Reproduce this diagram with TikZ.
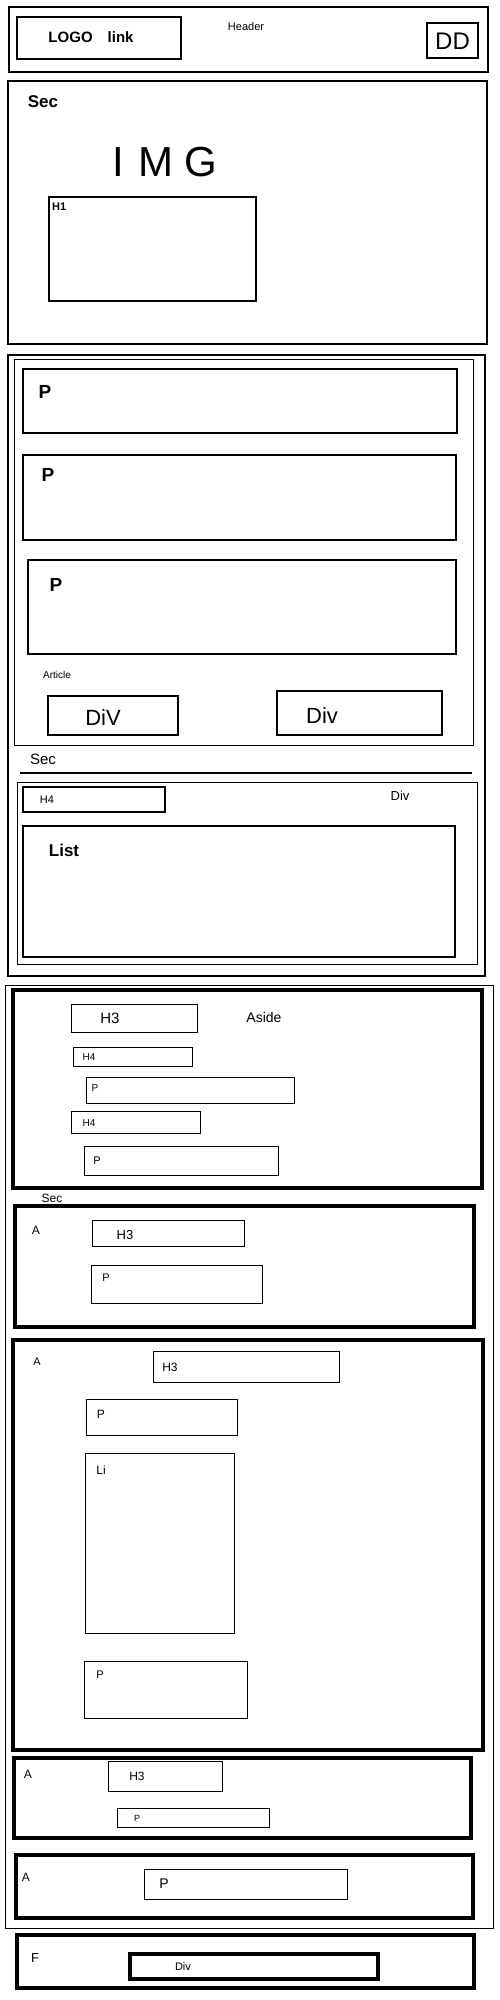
\documentclass[tikz,border=0pt]{standalone}
\usepackage{fontspec}
\setsansfont{Liberation Sans}
\usepackage{tikz}

\begin{document}
\begin{tikzpicture}[x=1pt, y=-1pt, dims/.style 2 args={minimum width=#1pt, minimum height=#2pt}]
			\tikzstyle{box}=[rectangle, draw=black, inner sep=0pt, line width=2pt]
			\tikzstyle{slim}=[box, line width=0.8pt]
			\tikzstyle{heavy}=[box, line width=4pt]
			\tikzstyle{hand}=[font=\sffamily, inner sep=0pt]
			\useasboundingbox (0,0) rectangle (500,2000);
			\fill[white] (0,0) rectangle (500,2000);
			
			% Header
			\node[box, line width=2.5pt, dims={479}{65}] (header) at (248.5,39.5) {};
			\node[box, dims={164}{42}] (logo) at (99,38) {};
			\node[box, dims={51}{35}] (dd) at (452.5,40.5) {};
			\node[hand, font=\sffamily\bfseries\fontsize{15}{15}\selectfont] (logot) at (91,37) {LOGO\quad link};
			\node[hand, font=\sffamily\fontsize{11}{11}\selectfont] (headert) at (246,27) {Header};
			\node[hand, font=\sffamily\fontsize{24}{24}\selectfont] (ddt) at (452.5,41) {DD};
			
			% First section with image
			\node[box, dims={479}{263}] (sec1) at (247.5,212.5) {};
			\node[box, dims={207}{104}] (h1) at (152.5,249) {};
			\node[hand, font=\sffamily\bfseries\fontsize{17}{17}\selectfont] (sec1t) at (43,102) {Sec};
			\node[hand, font=\sffamily\fontsize{42}{42}\selectfont] (img) at (165,162) {I\hspace{14pt}M\hspace{12pt}G};
			\node[hand, font=\sffamily\bfseries\fontsize{11}{11}\selectfont, anchor=north west] (h1t) at (52,203) {H1};
			
			% Main block: article and second section
			\node[box, dims={477}{621}] (main) at (246.5,665.5) {};
			\node[slim, line width=1pt, dims={459}{386}] (article) at (243.5,552) {};
			\node[box, dims={434}{64}] (p1) at (240,401) {};
			\node[box, dims={433}{85}] (p2) at (239.5,497.5) {};
			\node[box, dims={428}{94}] (p3) at (242,607) {};
			\node[box, line width=1.5pt, dims={130}{39}] (div1) at (113,715.5) {};
			\node[box, line width=1.5pt, dims={165}{44}] (div2) at (359.5,713) {};
			\node[hand, font=\sffamily\bfseries\fontsize{19}{19}\selectfont] (p1t) at (45,392) {P};
			\node[hand, font=\sffamily\bfseries\fontsize{19}{19}\selectfont] (p2t) at (48,475) {P};
			\node[hand, font=\sffamily\bfseries\fontsize{19}{19}\selectfont] (p3t) at (56,585) {P};
			\node[hand, font=\sffamily\fontsize{10}{10}\selectfont] (articlet) at (57,675) {Article};
			\node[hand, font=\sffamily\fontsize{22}{22}\selectfont] (div1t) at (103,718) {DiV};
			\node[hand, font=\sffamily\fontsize{22}{22}\selectfont] (div2t) at (322,716) {Div};
			
			\node[hand, font=\sffamily\fontsize{15}{15}\selectfont] (sec2t) at (43,759) {Sec};
			\coordinate (rulea) at (20,773);
			\coordinate (ruleb) at (472,773);
			\draw[line width=2.5pt] (rulea) -- (ruleb);
			\node[slim, line width=1pt, dims={460}{182}] (divsec) at (247,873) {};
			\node[box, dims={142}{25}] (h4) at (94,799.5) {};
			\node[box, dims={432}{131}] (list) at (239,891.5) {};
			\node[hand, font=\sffamily\fontsize{11}{11}\selectfont] (h4t) at (47,800) {H4};
			\node[hand, font=\sffamily\fontsize{13}{13}\selectfont] (divsect) at (400,796) {Div};
			\node[hand, font=\sffamily\bfseries\fontsize{17}{17}\selectfont] (listt) at (64,850) {List};
			
			% Lower block: aside and articles
			\node[slim, line width=1pt, dims={488}{943}] (lower) at (249,1456.5) {};
			\node[heavy, dims={469}{198}] (aside) at (247.5,1089) {};
			\node[slim, dims={126}{28}] (ah3) at (134,1018) {};
			\node[slim, dims={119}{19}] (ah4a) at (132.5,1056.5) {};
			\node[slim, dims={208}{26}] (apa) at (190,1090) {};
			\node[slim, dims={129}{22}] (ah4b) at (135.5,1122) {};
			\node[slim, dims={194}{29}] (apb) at (181,1160.5) {};
			\node[hand, font=\sffamily\fontsize{15}{15}\selectfont] (ah3t) at (110,1018) {H3};
			\node[hand, font=\sffamily\fontsize{14}{14}\selectfont] (asidet) at (264,1017) {Aside};
			\node[hand, font=\sffamily\fontsize{10}{10}\selectfont] (ah4at) at (89,1057) {H4};
			\node[hand, font=\sffamily\fontsize{10}{10}\selectfont] (apat) at (95,1088) {P};
			\node[hand, font=\sffamily\fontsize{10}{10}\selectfont] (ah4bt) at (89,1123) {H4};
			\node[hand, font=\sffamily\fontsize{11}{11}\selectfont] (apbt) at (97,1161) {P};
			\node[hand, font=\sffamily\fontsize{12}{12}\selectfont] (sec3t) at (52,1198) {Sec};
			
			\node[heavy, dims={459}{121}] (art1) at (244.5,1266.5) {};
			\node[slim, dims={152}{26}] (art1h3) at (168,1233) {};
			\node[slim, dims={171}{38}] (art1p) at (176.5,1284) {};
			\node[hand, font=\sffamily\fontsize{12}{12}\selectfont] (art1t) at (36,1230) {A};
			\node[hand, font=\sffamily\fontsize{13}{13}\selectfont] (art1h3t) at (125,1235) {H3};
			\node[hand, font=\sffamily\fontsize{11}{11}\selectfont] (art1pt) at (106,1278) {P};
			
			\node[heavy, dims={470}{410}] (art2) at (248,1545) {};
			\node[slim, dims={186}{31}] (art2h3) at (246,1366.5) {};
			\node[slim, dims={151}{36}] (art2pa) at (161.5,1417) {};
			\node[slim, dims={149}{180}] (art2li) at (159.5,1543) {};
			\node[slim, dims={163}{57}] (art2pb) at (165.5,1689.5) {};
			\node[hand, font=\sffamily\fontsize{11}{11}\selectfont] (art2t) at (37,1362) {A};
			\node[hand, font=\sffamily\fontsize{12}{12}\selectfont] (art2h3t) at (170,1367) {H3};
			\node[hand, font=\sffamily\fontsize{12}{12}\selectfont] (art2pat) at (101,1414) {P};
			\node[hand, font=\sffamily\fontsize{12}{12}\selectfont] (art2lit) at (101,1470) {Li};
			\node[hand, font=\sffamily\fontsize{11}{11}\selectfont] (art2pbt) at (100,1675) {P};
			
			\node[heavy, dims={457}{80}] (art3) at (242.5,1798) {};
			\node[slim, dims={114}{30}] (art3h3) at (165,1776) {};
			\node[slim, dims={152}{19}] (art3p) at (193,1817.5) {};
			\node[hand, font=\sffamily\fontsize{12}{12}\selectfont] (art3t) at (28,1774) {A};
			\node[hand, font=\sffamily\fontsize{12}{12}\selectfont] (art3h3t) at (137,1776) {H3};
			\node[hand, font=\sffamily\fontsize{9}{9}\selectfont] (art3pt) at (137,1818) {P};
			
			\node[heavy, dims={457}{63}] (art4) at (244.5,1886.5) {};
			\node[slim, dims={203}{30}] (art4p) at (245.5,1884) {};
			\node[hand, font=\sffamily\fontsize{12}{12}\selectfont] (art4t) at (26,1877) {A};
			\node[hand, font=\sffamily\fontsize{14}{14}\selectfont] (art4pt) at (164,1884) {P};
			
			% Footer
			\node[box, line width=3.5pt, dims={457}{53}] (footer) at (245.5,1961.5) {};
			\node[box, line width=3.5pt, dims={248}{25}] (fdiv) at (254,1966.5) {};
			\node[hand, font=\sffamily\fontsize{13}{13}\selectfont] (footert) at (35,1958) {F};
			\node[hand, font=\sffamily\fontsize{11}{11}\selectfont] (fdivt) at (183,1966) {Div};
			
		\end{tikzpicture}
\end{document}
